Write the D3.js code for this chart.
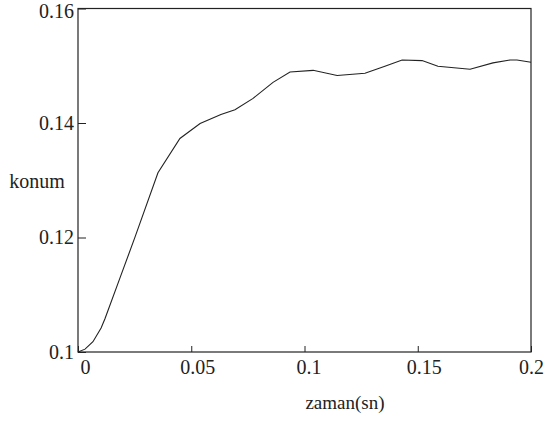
<!DOCTYPE html>
<html>
<head>
<meta charset="utf-8">
<script src="https://cdn.jsdelivr.net/npm/d3@7"></script>
<style>
  html, body { margin: 0; padding: 0; background: #fff; }
  svg text { font-family: "Times New Roman", "Liberation Serif", Tinos, serif !important; fill: #222; }
</style>
</head>
<body>
<svg id="chart" width="546" height="443"></svg>
<script>
const timeValues = [0, 0.0031, 0.0066, 0.0102, 0.0119, 0.0185, 0.0252, 0.0353, 0.0450, 0.0539,
  0.0631, 0.0693, 0.0773, 0.0861, 0.0936, 0.1038, 0.1144, 0.1267, 0.1355, 0.1431,
  0.1519, 0.1589, 0.1731, 0.1832, 0.1907, 0.1938, 0.2];
const positionValues = [0.1, 0.1005, 0.1018, 0.1042, 0.1058, 0.1129, 0.1201, 0.1313, 0.1373, 0.1399,
  0.1415, 0.1423, 0.1443, 0.1471, 0.1489, 0.1492, 0.1483, 0.1487, 0.1499, 0.1510,
  0.1509, 0.1499, 0.1494, 0.1505, 0.1510, 0.1510, 0.1506];
const xTicks = [0, 0.05, 0.1, 0.15, 0.2];
const xTickLabels = ["0", "0.05", "0.1", "0.15", "0.2"];
const yTicks = [0.1, 0.12, 0.14, 0.16];
const yTickLabels = ["0.1", "0.12", "0.14", "0.16"];
const xTitle = "zaman(sn)";
const yTitle = "konum";

const svg = d3.select("#chart");
const mLeft = 78, mRight = 531, mTop = 8.5, mBottom = 352;
const x = d3.scaleLinear().domain([0, 0.2]).range([mLeft, mRight]);
const y = d3.scaleLinear().domain([0.1, 0.16]).range([mBottom, mTop]);
const ink = "#222";
const xLabelShift = [7, 6, 4, 6, 0];

// frame
svg.append("rect").attr("x", mLeft).attr("y", mTop)
  .attr("width", mRight - mLeft).attr("height", mBottom - mTop)
  .attr("fill", "none").attr("stroke", ink).attr("stroke-width", 1.2);

// x axis
const xAxis = d3.axisBottom(x).tickValues(xTicks)
  .tickFormat((d, i) => xTickLabels[i]).tickSizeInner(-6).tickSizeOuter(0).tickPadding(8);
const gx = svg.append("g").attr("transform", `translate(0,${mBottom})`).call(xAxis);
gx.attr("font-family", null);
gx.select(".domain").remove();
gx.selectAll("line").attr("stroke", ink);
gx.selectAll("text").attr("font-size", 20).attr("dx", (d, i) => xLabelShift[i]).attr("fill", ink);

// y axis
const yAxis = d3.axisLeft(y).tickValues(yTicks)
  .tickFormat((d, i) => yTickLabels[i]).tickSizeInner(-8).tickSizeOuter(0).tickPadding(4);
const gy = svg.append("g").attr("transform", `translate(${mLeft},0)`).call(yAxis);
gy.attr("font-family", null);
gy.select(".domain").remove();
gy.selectAll("line").attr("stroke", ink);
gy.selectAll("text").attr("font-size", 20).attr("fill", ink)
  .attr("y", d => d === 0.16 ? 3 : 0);

// titles
svg.append("text").attr("x", 345).attr("y", 409).attr("text-anchor", "middle")
  .attr("font-size", 19).text(xTitle);
svg.append("text").attr("x", 37).attr("y", 188).attr("text-anchor", "middle")
  .attr("font-size", 20).text(yTitle);

// line
const data = timeValues.map((t, i) => ({ t, v: positionValues[i] }));
svg.append("path").datum(data)
  .attr("fill", "none").attr("stroke", ink).attr("stroke-width", 1.1)
  .attr("d", d3.line().x(d => x(d.t)).y(d => y(d.v)));
</script>
</body>
</html>
